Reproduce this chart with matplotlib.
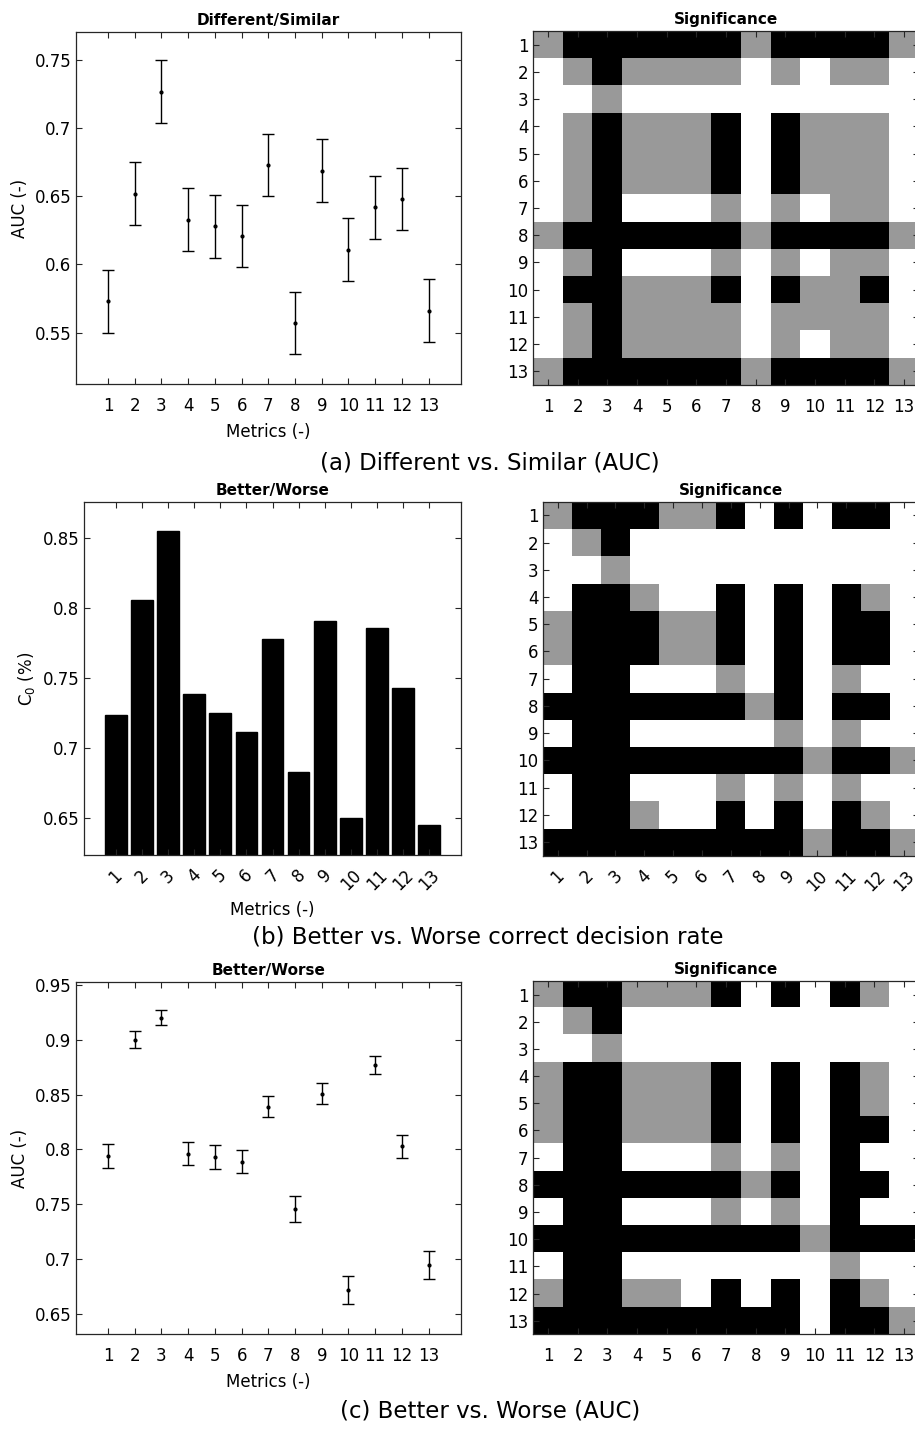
import numpy as np
import matplotlib
matplotlib.use("Agg")
import matplotlib.pyplot as plt
from matplotlib.colors import ListedColormap

plt.rcParams['font.family'] = ['DejaVu Sans']

metrics = list(range(1, 14))
metric_labels = [str(m) for m in metrics]

# (a) Different vs Similar AUC
auc_ds = [0.573, 0.652, 0.727, 0.633, 0.628, 0.621, 0.673, 0.557, 0.669, 0.611, 0.642, 0.648, 0.566]
auc_ds_err = [0.023] * 13

# (b) Better vs Worse correct decision rate
c0_bw = [0.724, 0.806, 0.855, 0.739, 0.725, 0.712, 0.778, 0.683, 0.791, 0.650, 0.786, 0.743, 0.645]

# (c) Better vs Worse AUC
auc_bw = [0.794, 0.900, 0.920, 0.796, 0.793, 0.789, 0.839, 0.746, 0.851, 0.672, 0.877, 0.803, 0.695]
auc_bw_err = [0.0108, 0.0077, 0.0067, 0.0106, 0.0107, 0.0108, 0.0096, 0.0117, 0.0094, 0.0128, 0.0084, 0.0106, 0.0128]

# significance matrices: 0 = white, 1 = gray, 2 = black
sig_a = [
    [1,2,2,2,2,2,2,1,2,2,2,2,1],
    [0,1,2,1,1,1,1,0,1,0,1,1,0],
    [0,0,1,0,0,0,0,0,0,0,0,0,0],
    [0,1,2,1,1,1,2,0,2,1,1,1,0],
    [0,1,2,1,1,1,2,0,2,1,1,1,0],
    [0,1,2,1,1,1,2,0,2,1,1,1,0],
    [0,1,2,0,0,0,1,0,1,0,1,1,0],
    [1,2,2,2,2,2,2,1,2,2,2,2,1],
    [0,1,2,0,0,0,1,0,1,0,1,1,0],
    [0,2,2,1,1,1,2,0,2,1,1,2,0],
    [0,1,2,1,1,1,1,0,1,1,1,1,0],
    [0,1,2,1,1,1,1,0,1,0,1,1,0],
    [1,2,2,2,2,2,2,1,2,2,2,2,1],
]
sig_b = [
    [1,2,2,2,1,1,2,0,2,0,2,2,0],
    [0,1,2,0,0,0,0,0,0,0,0,0,0],
    [0,0,1,0,0,0,0,0,0,0,0,0,0],
    [0,2,2,1,0,0,2,0,2,0,2,1,0],
    [1,2,2,2,1,1,2,0,2,0,2,2,0],
    [1,2,2,2,1,1,2,0,2,0,2,2,0],
    [0,2,2,0,0,0,1,0,2,0,1,0,0],
    [2,2,2,2,2,2,2,1,2,0,2,2,0],
    [0,2,2,0,0,0,0,0,1,0,1,0,0],
    [2,2,2,2,2,2,2,2,2,1,2,2,1],
    [0,2,2,0,0,0,1,0,1,0,1,0,0],
    [0,2,2,1,0,0,2,0,2,0,2,1,0],
    [2,2,2,2,2,2,2,2,2,1,2,2,1],
]
sig_c = [
    [1,2,2,1,1,1,2,0,2,0,2,1,0],
    [0,1,2,0,0,0,0,0,0,0,0,0,0],
    [0,0,1,0,0,0,0,0,0,0,0,0,0],
    [1,2,2,1,1,1,2,0,2,0,2,1,0],
    [1,2,2,1,1,1,2,0,2,0,2,1,0],
    [1,2,2,1,1,1,2,0,2,0,2,2,0],
    [0,2,2,0,0,0,1,0,1,0,2,0,0],
    [2,2,2,2,2,2,2,1,2,0,2,2,0],
    [0,2,2,0,0,0,1,0,1,0,2,0,0],
    [2,2,2,2,2,2,2,2,2,1,2,2,2],
    [0,2,2,0,0,0,0,0,0,0,1,0,0],
    [1,2,2,1,1,0,2,0,2,0,2,1,0],
    [2,2,2,2,2,2,2,2,2,0,2,2,1],
]

W, H = 915, 1429
fig = plt.figure(figsize=(W/100, H/100), dpi=100)

def ax_px(l, t, r, b):
    return fig.add_axes([l/W, 1 - b/H, (r - l)/W, (b - t)/H])

FS = 12
TFS = 11
SPINE = '#262626'
cmap = ListedColormap(['white', '#999999', 'black'])

def style(ax):
    for s in ax.spines.values():
        s.set_color(SPINE)
        s.set_linewidth(0.9)
    ax.tick_params(direction='in', top=True, right=True, length=4, width=0.8,
                   colors=SPINE, labelcolor='black', labelsize=FS)

def fmt(v):
    s = ('%.2f' % v).rstrip('0').rstrip('.')
    return s

def left_errorbar(ax, vals, errs, ylim, yticks, title):
    ax.errorbar(metrics, vals, yerr=errs, fmt='.', color='black', ecolor='black',
                markersize=4, capsize=4.3, elinewidth=1.0, capthick=1.0)
    ax.set_xlim(-0.2, 14.2)
    ax.set_ylim(*ylim)
    ax.set_xticks(metrics)
    ax.set_xticklabels(metric_labels)
    ax.set_yticks(yticks)
    ax.set_yticklabels([fmt(v) for v in yticks])
    ax.set_xlabel('Metrics (-)', fontsize=FS, labelpad=6)
    ax.set_ylabel('AUC (-)', fontsize=FS)
    ax.set_title(title, fontsize=TFS, fontweight='bold', pad=5)
    style(ax)

def matrix(ax, m, rotate=False):
    ax.imshow(np.array(m), cmap=cmap, vmin=0, vmax=2, aspect='auto',
              interpolation='nearest', extent=(0.5, 13.5, 13.5, 0.5))
    ax.set_xlim(0.5, 13.5)
    ax.set_ylim(13.5, 0.5)
    ax.set_xticks(metrics)
    ax.set_yticks(metrics)
    ax.set_yticklabels(metric_labels)
    if rotate:
        ax.set_xticklabels(metric_labels, rotation=45, ha='center', va='top')
    else:
        ax.set_xticklabels(metric_labels)
    ax.set_title('Significance', fontsize=TFS, fontweight='bold', pad=5)
    style(ax)
    ax.tick_params(pad=9, axis='x')

# (a)
axA = ax_px(76, 31.7, 460.7, 384.3)
left_errorbar(axA, auc_ds, auc_ds_err, (0.512, 0.771),
              [0.55, 0.6, 0.65, 0.7, 0.75], 'Different/Similar')
axA.tick_params(axis='x', pad=9)
mA = ax_px(533.3, 31, 919, 385)
matrix(mA, sig_a)

# (b)
axB = ax_px(84.3, 502.3, 460.7, 855)
axB.bar(metrics, c0_bw, width=0.83, color='black', edgecolor='black')
axB.set_xlim(-0.2, 14.2)
axB.set_ylim(0.6238, 0.8757)
axB.set_xticks(metrics)
axB.set_xticklabels(metric_labels, rotation=45, ha='center', va='top')
yt = [0.65, 0.7, 0.75, 0.8, 0.85]
axB.set_yticks(yt)
axB.set_yticklabels([fmt(v) for v in yt])
axB.set_xlabel('Metrics (-)', fontsize=FS, labelpad=5)
axB.set_ylabel('C$_0$ (%)', fontsize=FS)
axB.set_title('Better/Worse', fontsize=TFS, fontweight='bold', pad=5)
style(axB)
axB.tick_params(axis='x', pad=8)
mB = ax_px(543.3, 501.7, 918.5, 855.7)
matrix(mB, sig_b, rotate=True)
mB.tick_params(axis='x', pad=8)

# (c)
axC = ax_px(76, 982.3, 460.7, 1334.3)
left_errorbar(axC, auc_bw, auc_bw_err, (0.6315, 0.9524),
              [0.65, 0.7, 0.75, 0.8, 0.85, 0.9, 0.95], 'Better/Worse')
axC.tick_params(axis='x', pad=9)
mC = ax_px(533.3, 981, 919, 1334.3)
matrix(mC, sig_c)

cap_font = ['DejaVu Sans']
fig.text(490/W, 1 - 463/H, '(a) Different vs. Similar (AUC)', ha='center', va='center',
         fontsize=16.5, family=cap_font)
fig.text(488/W, 1 - 937/H, '(b) Better vs. Worse correct decision rate', ha='center', va='center',
         fontsize=16.5, family=cap_font)
fig.text(490/W, 1 - 1411/H, '(c) Better vs. Worse (AUC)', ha='center', va='center',
         fontsize=16.5, family=cap_font)

fig.savefig('out.png', dpi=100)
